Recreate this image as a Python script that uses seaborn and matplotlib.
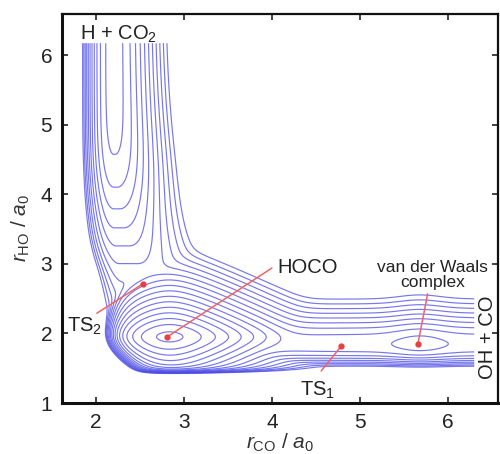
import numpy as np
import matplotlib
matplotlib.use("Agg")
import matplotlib.pyplot as plt
import seaborn as sns

# ---------------- data ----------------
r_co_range = [1.80, 6.30]          # extent of the drawn surface, r_CO / a0
r_ho_range = [1.30, 6.17]          # extent of the drawn surface, r_HO / a0
hoco_well = [2.83, 1.95, -0.98]    # r_CO, r_HO, energy of HOCO minimum
entrance_valley = [2.20, -0.50]    # H + CO2 valley: r_CO centre, asymptotic energy
exit_valley = [1.85, -0.22]        # OH + CO valley: r_HO centre, asymptotic energy
vdw_complex = [5.68, -0.08, 0.33]  # r_CO position, depth, half-width
contour_levels = [-0.95, -0.85, -0.75, -0.65, -0.55, -0.45, -0.35, -0.25,
                  -0.15, -0.05, 0.05, 0.15, 0.25, 0.35, 0.45, 0.55]
x_ticks = [2, 3, 4, 5, 6]
y_ticks = [1, 2, 3, 4, 5, 6]

label_texts = ["HOCO", "TS$_2$", "TS$_1$", "van der Waals", "complex"]
label_pos = [(4.06, 2.87), (1.67, 2.02), (4.32, 1.11), (5.83, 2.88), (5.83, 2.67)]
label_ha = ["left", "left", "left", "center", "center"]
label_size = [14.5, 14.5, 14.5, 12.5, 12.5]
arrow_start = [(4.00, 2.94), (2.01, 2.29), (4.56, 1.46), (5.77, 2.57)]
arrow_end = [(2.81, 1.95), (2.53, 2.71), (4.79, 1.82), (5.66, 1.85)]

# ---------------- model surface built from the parameters ----------------
xs = np.linspace(r_co_range[0], r_co_range[1], 600)
ys = np.linspace(r_ho_range[0], r_ho_range[1], 600)
X, Y = np.meshgrid(xs, ys)


def morse(d, D, a):
    return D * (1.0 - np.exp(-a * d)) ** 2


def hyper(d, A, d0):
    return A * (np.sqrt(1.0 + (d / d0) ** 2) - 1.0)


def wall(u, W, b):
    return W * np.exp(np.clip(b * u, None, 30))


# HOCO well
dx = X - hoco_well[0]
dy = Y - hoco_well[1]
V3 = (hoco_well[2]
      + hyper(dx, 0.225, 0.30) + wall(-dx - 0.42, 0.07, 9.0)
      + hyper(dy, 0.143, 0.11) + wall(-dy - 0.45, 0.10, 30.0)
      + wall(-(dx + dy) - 0.88, 0.75, 10.0))

# H + CO2 entrance channel (valley widening towards TS2)
xL = entrance_valley[0] + 0.12 / (1.0 + np.exp((Y - 3.0) / 0.2))
xR = entrance_valley[0] + np.minimum(0.41 * np.exp(-1.66 * (Y - 2.75)), 0.6)
stretch = np.minimum(1.0 + 0.8 * np.exp(-(Y - 3.2) / 1.0), 2.0)
d1 = np.where(X < xL, X - xL, np.where(X > xR, (X - xR) / stretch, 0.0))
barrier = 0.4 * 0.3 * np.log1p(np.exp((4.375 - Y) / 0.3))
V1 = entrance_valley[1] + morse(d1, 4.7, 1.1) + barrier

# OH + CO exit channel with van der Waals well
V2 = (exit_valley[1] + morse(Y - exit_valley[0], 2.0, 1.5)
      + vdw_complex[1] * np.exp(-((X - vdw_complex[0]) / vdw_complex[2]) ** 2)
      + wall(-(X - 4.77), 0.005, 2.42))

T = 0.07
stack = np.stack([V1, V2, V3])
m = stack.min(axis=0)
V = m - T * np.log(np.exp(-(stack - m) / T).sum(axis=0))

# ---------------- figure ----------------
sns.set_theme(style="ticks")
plt.rcParams["font.family"] = ["Liberation Sans", "DejaVu Sans"]
plt.rcParams["mathtext.fontset"] = "custom"
plt.rcParams["mathtext.rm"] = "Liberation Sans"
plt.rcParams["mathtext.it"] = "Liberation Sans:italic"

fig = plt.figure(figsize=(5.0, 4.54), dpi=100)
ax = fig.add_axes([0.124, 0.1123, 0.872, 0.857])

ax.contour(X, Y, V, levels=contour_levels, colors="#4a4ae6",
           linewidths=0.85, alpha=0.75, linestyles="solid")

ax.set_xlim(1.614, 6.57)
ax.set_ylim(1.0, 6.59)
ax.set_xticks(x_ticks)
ax.set_yticks(y_ticks)
ax.tick_params(direction="in", length=4, width=1.2, top=True, right=True,
               labelsize=15, colors="#222222", pad=7)
for side in ["left", "bottom"]:
    ax.spines[side].set_linewidth(2.2)
for side in ["top", "right"]:
    ax.spines[side].set_linewidth(1.6)
for s in ax.spines.values():
    s.set_color("#111111")

ax.set_xlabel(r"$r_{\mathrm{CO}}$ / $a_0$", fontsize=15, labelpad=0, color="#333333")
ax.set_ylabel(r"$r_{\mathrm{HO}}$ / $a_0$", fontsize=15, color="#333333")
ax.yaxis.set_label_coords(-0.068, 0.45)

red = "#f06464"
for (x0, y0), (xe, ye) in zip(arrow_start, arrow_end):
    ax.annotate("", xy=(xe, ye), xytext=(x0, y0),
                arrowprops=dict(arrowstyle="-", color=red, lw=1.1,
                                shrinkA=0, shrinkB=0))
    ax.plot([xe], [ye], "o", color="#e84040", ms=3.5, zorder=5)

for t, (x0, y0), ha, fs in zip(label_texts, label_pos, label_ha, label_size):
    ax.text(x0, y0, t, ha=ha, va="baseline", fontsize=fs, color="#222222")

ax.text(1.82, 6.215, "H + CO$_2$", ha="left", va="baseline", fontsize=14.5,
        color="#222222")
ax.text(6.45, 1.95, "OH + CO", rotation=90, ha="center", va="center",
        fontsize=14.5, color="#222222")

fig.savefig("out.png", dpi=100, facecolor="white")
